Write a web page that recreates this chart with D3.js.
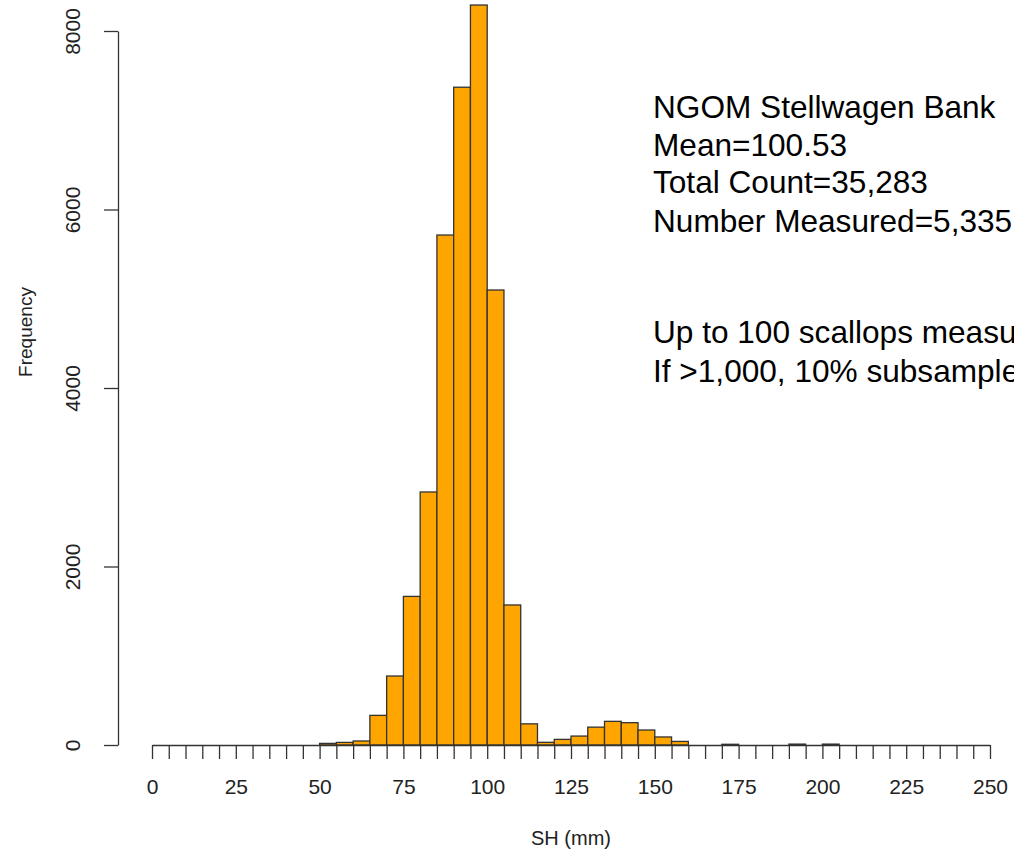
<!DOCTYPE html>
<html>
<head>
<meta charset="utf-8">
<script src="https://cdn.jsdelivr.net/npm/d3@7"></script>
<style>
  html, body { margin: 0; padding: 0; background: #fff; }
  svg { display: block; font-family: "Liberation Sans", Arial, sans-serif; }
</style>
</head>
<body>
<svg id="chart" width="1014" height="852"></svg>
<script>
// Histogram bins (mm, 5 mm wide) and counts
const binStarts = [50, 55, 60, 65, 70, 75, 80, 85, 90, 95, 100, 105, 110, 115, 120, 125, 130, 135, 140, 145, 150, 155, 160, 165, 170, 175, 180, 185, 190, 195, 200];
const counts    = [18, 29, 45, 332, 773, 1665, 2835, 5714, 7370, 8291, 5098, 1569, 237, 30, 63, 100, 200, 265, 250, 168, 90, 40, 0, 0, 8, 0, 0, 0, 10, 0, 10];
const binWidth = 5;
const xTickValues = d3.range(0, 251, 5);
const xTickLabels = [0, 25, 50, 75, 100, 125, 150, 175, 200, 225, 250];
const yTickValues = [0, 2000, 4000, 6000, 8000];
const xTitle = "SH (mm)";
const yTitle = "Frequency";
const infoLines1 = ["NGOM Stellwagen Bank", "Mean=100.53", "Total Count=35,283", "Number Measured=5,335"];
const infoLines2 = ["Up to 100 scallops measured", "If >1,000, 10% subsampled"];

const svg = d3.select("#chart");
const x = d3.scaleLinear().domain([0, 250]).range([152, 990]);
const y = d3.scaleLinear().domain([0, 8000]).range([745, 31]);
const axisColor = "#333";

// Bars
svg.append("g").selectAll("rect")
  .data(binStarts.map((b, i) => ({ b, c: counts[i] })))
  .join("rect")
  .attr("x", d => x(d.b))
  .attr("width", d => x(d.b + binWidth) - x(d.b))
  .attr("y", d => y(d.c))
  .attr("height", d => y(0) - y(d.c))
  .attr("fill", "#FFA500")
  .attr("stroke", "#333")
  .attr("stroke-width", 1.3);

// X axis
const xAxis = d3.axisBottom(x)
  .tickValues(xTickValues)
  .tickSize(14)
  .tickSizeOuter(0)
  .tickFormat(d => xTickLabels.includes(d) ? d : "");
const gx = svg.append("g").attr("transform", `translate(0,${y(0)})`).call(xAxis);
gx.select(".domain").attr("stroke", axisColor).attr("stroke-width", 1.3);
gx.selectAll(".tick line").attr("stroke", axisColor).attr("stroke-width", 1.3);
gx.selectAll(".tick text")
  .attr("y", 49)
  .attr("dy", 0)
  .attr("fill", "#222")
  .style("font-size", "21px")
  .style("font-family", "'Liberation Sans', Arial, sans-serif");

// Y axis
const yAxis = d3.axisLeft(y)
  .tickValues(yTickValues)
  .tickSize(14)
  .tickSizeOuter(0)
  .tickFormat(d3.format("d"));
const gy = svg.append("g").attr("transform", "translate(118,0)").call(yAxis);
gy.select(".domain").attr("stroke", axisColor).attr("stroke-width", 1.3);
gy.selectAll(".tick line").attr("stroke", axisColor).attr("stroke-width", 1.3);
gy.selectAll(".tick text")
  .attr("x", null).attr("dy", null)
  .attr("transform", "translate(-38,0) rotate(-90)")
  .attr("text-anchor", "middle")
  .attr("fill", "#222")
  .style("font-size", "21px")
  .style("font-family", "'Liberation Sans', Arial, sans-serif");

// Axis titles
svg.append("text")
  .attr("x", (x(0) + x(250)) / 2)
  .attr("y", 845)
  .attr("text-anchor", "middle")
  .attr("fill", "#222")
  .style("font-size", "20px")
  .text(xTitle);

svg.append("text")
  .attr("transform", "translate(32,332) rotate(-90)")
  .attr("text-anchor", "middle")
  .attr("fill", "#222")
  .style("font-size", "19px")
  .text(yTitle);

// Info text
const info = svg.append("g").attr("fill", "#000").style("font-size", "31.6px");
const baselines1 = [118, 155.5, 193, 231.5];
infoLines1.forEach((t, i) => info.append("text").attr("x", 653).attr("y", baselines1[i]).text(t));
const baselines2 = [343, 381.5];
infoLines2.forEach((t, i) => info.append("text").attr("x", 653).attr("y", baselines2[i]).text(t));
</script>
</body>
</html>
